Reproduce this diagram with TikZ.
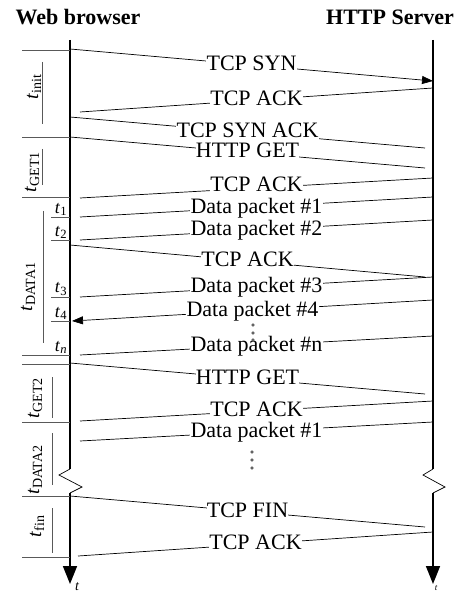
\documentclass[tikz,border=0pt]{standalone}
\usepackage{fontspec}
\setmainfont{Liberation Serif}
\usetikzlibrary{arrows.meta}
\colorlet{col1}{black!65}
\newcommand{\tsub}[1]{\textit{t}\textsubscript{#1}}

\begin{document}
\begin{tikzpicture}[x=1pt, y=-1pt, line width=0.7pt,
    every node/.style={font=\fontsize{22}{24}\selectfont},
    header/.style={font=\fontsize{22}{24}\selectfont\bfseries},
    timeline/.style={line width=1.6pt},
    timearrow/.style={timeline, -{Triangle[length=18pt,width=14pt]}},
    msg/.style={fill=white, inner sep=0.3pt, text height=15pt, text depth=4pt},
    sendarrow/.style={-{Triangle[length=11pt,width=8pt]}},
    markline/.style={col1, line width=0.7pt},
    period/.style={rotate=90, inner sep=0pt, font=\fontsize{20}{22}\selectfont},
    stamp/.style={anchor=south, inner sep=1pt, font=\fontsize{18}{20}\selectfont},
    ]
\useasboundingbox (0,0) rectangle (463,593);

\node[header] (browser) at (78,17) {Web browser};
\node[header] (server) at (390,17) {HTTP Server};

%% time axes, broken between the two transfers
\coordinate (bTop) at (70,40);   \coordinate (sTop) at (433,40);
\coordinate (bCut) at (70,469);  \coordinate (sCut) at (433,469);
\coordinate (bOn) at (70,493);   \coordinate (sOn) at (433,493);
\coordinate (bEnd) at (70,584);  \coordinate (sEnd) at (433,584);
\draw[timeline] (bTop) -- (bCut);
\draw (bCut) -- ++(-11,6) -- ++(23,12) -- (bOn);
\draw[timearrow] (bOn) -- (bEnd);
\draw[timeline] (sTop) -- (sCut);
\draw (sCut) -- ++(-10,6) -- ++(22,12) -- (sOn);
\draw[timearrow] (sOn) -- (sEnd);
\node[font=\fontsize{14}{15}\selectfont\itshape, inner sep=0pt, anchor=north] (tb) at (77,582) {t};
\node[font=\fontsize{9}{10}\selectfont\itshape, inner sep=0pt, anchor=north] (ts) at (436,585) {t};

%% message end points: w = browser side, h = server side
\coordinate (w1) at (70,49);   \coordinate (h1) at (433,81);
\coordinate (h2) at (433,88);  \coordinate (w2) at (80,112);
\coordinate (w3) at (70,117);  \coordinate (h3) at (425,148);
\coordinate (w4) at (70,137);  \coordinate (h4) at (425,168);
\coordinate (h5) at (433,178); \coordinate (w5) at (80,198);
\coordinate (h6) at (433,197); \coordinate (w6) at (80,217);
\coordinate (h7) at (433,220); \coordinate (w7) at (80,240);
\coordinate (w8) at (70,245);  \coordinate (h8) at (425,277);
\coordinate (h9) at (433,277); \coordinate (w9) at (80,297);
\coordinate (h10) at (433,300); \coordinate (w10) at (72,321);
\coordinate (h11) at (433,336); \coordinate (w11) at (80,355);
\coordinate (w12) at (70,363);  \coordinate (h12) at (425,394);
\coordinate (h13) at (433,401); \coordinate (w13) at (80,421);
\coordinate (h14) at (433,422); \coordinate (w14) at (80,441);
\coordinate (w15) at (70,496);  \coordinate (h15) at (425,527);
\coordinate (h16) at (433,532); \coordinate (w16) at (78,556);

\draw[sendarrow] (w1) -- node[msg] (m1) {TCP SYN} (h1);
\draw (h2) -- node[msg] (m2) {TCP ACK} (w2);
\draw (w3) -- node[msg] (m3) {TCP SYN ACK} (h3);
\draw (w4) -- node[msg] (m4) {HTTP GET} (h4);
\draw (h5) -- node[msg, yshift=1.5pt] (m5) {TCP ACK} (w5);
\draw (h6) -- node[msg, yshift=-1pt] (m6) {Data packet \#1} (w6);
\draw (h7) -- node[msg] (m7) {Data packet \#2} (w7);
\draw (w8) -- node[msg] (m8) {TCP ACK} (h8);
\draw (h9) -- node[msg] (m9) {Data packet \#3} (w9);
\draw[sendarrow] (h10) -- node[msg] (m10) {Data packet \#4} (w10);
\draw (h11) -- node[msg] (m11) {Data packet \#n} (w11);
\draw (w12) -- node[msg] (m12) {HTTP GET} (h12);
\draw (h13) -- node[msg] (m13) {TCP ACK} (w13);
\draw (h14) -- node[msg] (m14) {Data packet \#1} (w14);
\draw (w15) -- node[msg] (m15) {TCP FIN} (h15);
\draw (h16) -- node[msg] (m16) {TCP ACK} (w16);

\foreach \y in {325,333,340} \filldraw[fill=gray!50, line width=0.4pt] (253,\y) circle (1.3);
\foreach \y in {452,460,468} \filldraw[fill=gray!50, line width=0.4pt] (252,\y) circle (1.3);

%% intervals on the browser side
\foreach \y in {50,137,197,355,364,422,496,557} \draw[markline] (22,\y) -- (70,\y);
\foreach \y in {217,240,297,321} \draw[markline] (51,\y) -- (70,\y);
\node[stamp] (t1) at (61,217) {\tsub{1}};
\node[stamp] (t2) at (61,240) {\tsub{2}};
\node[stamp] (t3) at (61,297) {\tsub{3}};
\node[stamp] (t4) at (61,321) {\tsub{4}};
\node[stamp] (tn) at (61,355) {\textit{t}\textsubscript{\textit{n}}};

\draw[markline] (42,62) -- (42,124);   \node[period] (tinit) at (34,87) {\tsub{init}};
\draw[markline] (42,149) -- (42,185);  \node[period] (tget1) at (32,172) {\tsub{GET1}};
\draw[markline] (43,211) -- (43,343);  \node[period] (tdata1) at (28,287) {\tsub{DATA1}};
\draw[markline] (52,377) -- (52,418);  \node[period] (tget2) at (35,398) {\tsub{GET2}};
\draw[markline] (52,433) -- (52,485);  \node[period] (tdata2) at (35,470) {\tsub{DATA2}};
\draw[markline] (52,508) -- (52,553);  \node[period] (tfin) at (37,526) {\tsub{fin}};
\end{tikzpicture}
\end{document}
